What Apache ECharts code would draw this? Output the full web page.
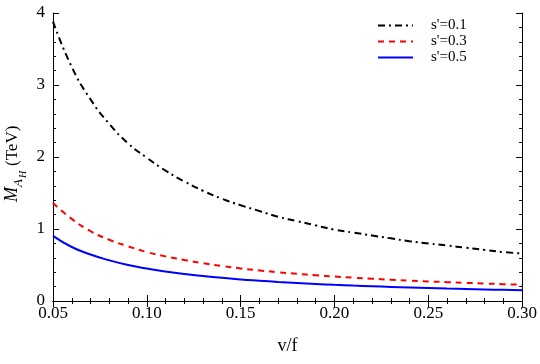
<!DOCTYPE html>
<html>
<head>
<meta charset="utf-8">
<script src="https://cdn.jsdelivr.net/npm/echarts@6/dist/echarts.min.js"></script>
<style>
  html, body { margin: 0; padding: 0; background: #fff; }
  #chart { width: 540px; height: 364px; }
</style>
</head>
<body>
<div id="chart"></div>
<script>
// v/f sample points
const vf = [0.05, 0.06, 0.07, 0.08, 0.09, 0.10, 0.11, 0.12, 0.13, 0.14, 0.15, 0.16, 0.17,
  0.18, 0.19, 0.20, 0.21, 0.22, 0.23, 0.24, 0.25, 0.26, 0.27, 0.28, 0.29, 0.30]

// M_AH (TeV)
const s01 = [3.88, 3.25, 2.80, 2.46, 2.19, 1.99, 1.81, 1.66, 1.53, 1.42, 1.33, 1.25, 1.17,
  1.11, 1.05, 0.99, 0.95, 0.91, 0.87, 0.83, 0.80, 0.77, 0.74, 0.71, 0.68, 0.66]
const s03 = [1.36, 1.14, 0.97, 0.85, 0.76, 0.68, 0.62, 0.57, 0.525, 0.485, 0.453, 0.425, 0.40,
  0.378, 0.358, 0.34, 0.324, 0.309, 0.296, 0.283, 0.272, 0.262, 0.252, 0.243, 0.234, 0.225]
const s05 = [0.905, 0.75, 0.645, 0.565, 0.50, 0.45, 0.41, 0.375, 0.347, 0.322, 0.30, 0.282, 0.265,
  0.25, 0.237, 0.225, 0.214, 0.205, 0.196, 0.188, 0.18, 0.173, 0.167, 0.161, 0.155, 0.15]

const seriesNames = ["s'=0.1", "s'=0.3", "s'=0.5"]

const serif = 'Liberation Serif'
const pairs = ys => vf.map((x, i) => [x, ys[i]])

const tickStyle = {show: true, inside: true, length: 6, lineStyle: {color: '#000'}}
const minorStyle = {show: true, splitNumber: 5, length: 3, lineStyle: {color: '#000'}}
const lineStyle = {show: true, lineStyle: {color: '#000', width: 1}}

const xBase = {
  type: 'value', min: 0.05, max: 0.30, interval: 0.05,
  axisLine: lineStyle, axisTick: tickStyle, minorTick: minorStyle,
  splitLine: {show: false}
}
const yBase = {
  type: 'value', min: 0, max: 4, interval: 1,
  axisLine: lineStyle, axisTick: tickStyle, minorTick: minorStyle,
  splitLine: {show: false}
}

const chart = echarts.init(document.getElementById('chart'))
chart.setOption({
  animation: false,
  backgroundColor: '#fff',
  grid: {left: 53, right: 17, top: 13, bottom: 63},
  legend: {
    orient: 'vertical', left: 377, top: 18, padding: 0,
    itemWidth: 35, itemHeight: 10, itemGap: 1,
    itemStyle: {opacity: 0},
    textStyle: {fontFamily: serif, fontSize: 15, color: '#000', padding: [0, 0, 0, 13]},
    data: seriesNames
  },
  xAxis: [
    Object.assign({}, xBase, {
      position: 'bottom',
      name: 'v/f', nameLocation: 'middle', nameGap: 36,
      nameTextStyle: {fontFamily: serif, fontSize: 18, color: '#000'},
      axisLabel: {
        margin: 4, fontFamily: serif, fontSize: 17, color: '#000',
        formatter: v => v.toFixed(2)
      }
    }),
    Object.assign({}, xBase, {position: 'top', axisLabel: {show: false}})
  ],
  yAxis: [
    Object.assign({}, yBase, {
      position: 'left',
      axisLabel: {margin: 8, fontFamily: serif, fontSize: 17, color: '#000'}
    }),
    Object.assign({}, yBase, {position: 'right', axisLabel: {show: false}})
  ],
  graphic: [{
    type: 'group', x: 21, y: 202, rotation: Math.PI / 2,
    children: [
      {type: 'text', x: 0, y: 0, style: {text: 'M', font: 'italic 18px "Liberation Serif"', fill: '#000', textVerticalAlign: 'bottom'}},
      {type: 'text', x: 15, y: 4, style: {text: 'A', font: 'italic 13px "Liberation Serif"', fill: '#000', textVerticalAlign: 'bottom'}},
      {type: 'text', x: 24, y: 7, style: {text: 'H', font: 'italic 10px "Liberation Serif"', fill: '#000', textVerticalAlign: 'bottom'}},
      {type: 'text', x: 36, y: 0, style: {text: '(TeV)', font: '17px "Liberation Serif"', fill: '#000', textVerticalAlign: 'bottom'}}
    ]
  }],
  series: [
    {
      name: seriesNames[0], type: 'line', symbol: 'none', smooth: true,
      data: pairs(s01), color: '#000',
      lineStyle: {color: '#000', width: 2, type: [7, 4, 2, 4]}
    },
    {
      name: seriesNames[1], type: 'line', symbol: 'none', smooth: true,
      data: pairs(s03), color: '#f00',
      lineStyle: {color: '#f00', width: 2, type: [6, 5]}
    },
    {
      name: seriesNames[2], type: 'line', symbol: 'none', smooth: true,
      data: pairs(s05), color: '#00f',
      lineStyle: {color: '#00f', width: 2, type: 'solid'}
    }
  ]
})
</script>
</body>
</html>
